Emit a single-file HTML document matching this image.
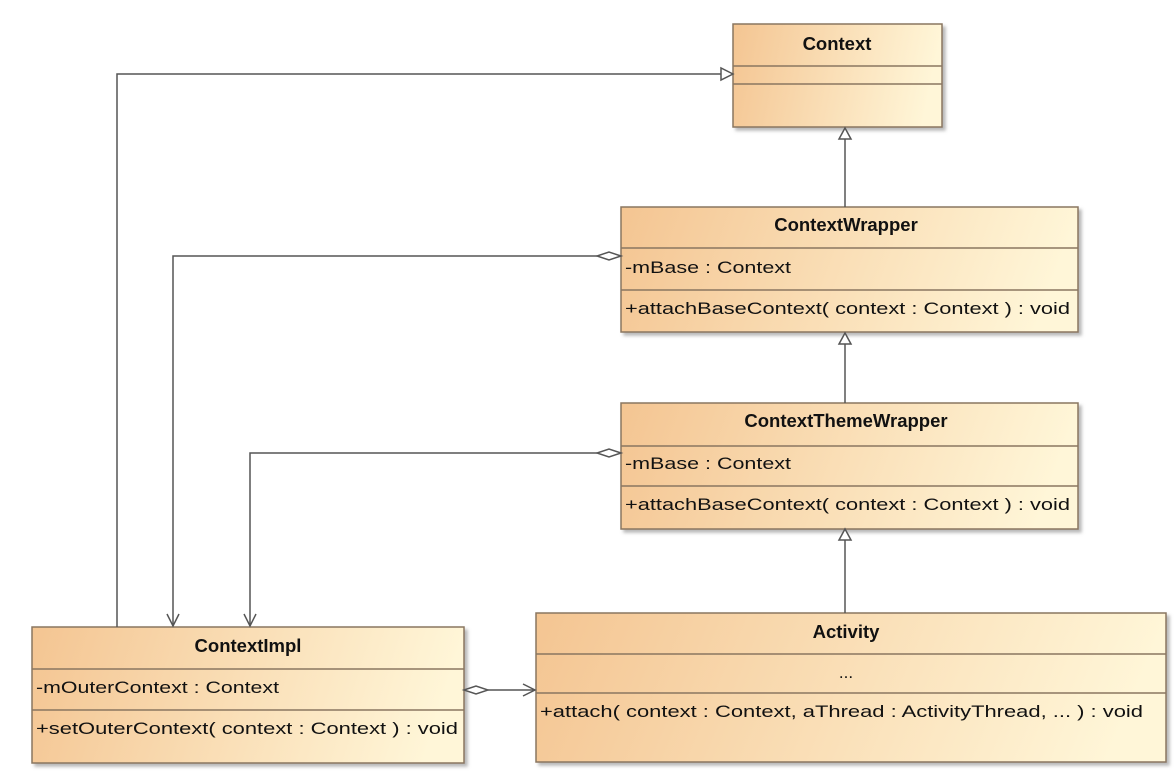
<!DOCTYPE html>
<html><head><style>html,body{margin:0;padding:0;background:#fff}</style></head>
<body>
<svg width="1174" height="778" xmlns="http://www.w3.org/2000/svg" font-family="Liberation Sans, sans-serif">
<defs>
<linearGradient id="g" x1="0" y1="0" x2="1" y2="0.1">
<stop offset="0" stop-color="#f4c592"/><stop offset="1" stop-color="#fff6d8"/>
</linearGradient>
<filter id="sh" x="-5%" y="-5%" width="110%" height="115%"><feDropShadow dx="3" dy="3" stdDeviation="1.5" flood-color="#888" flood-opacity="0.6"/></filter>
</defs>
<g stroke="#8a7660" stroke-width="1.5">
<rect x="733" y="24" width="209" height="103" fill="url(#g)" filter="url(#sh)"/>
<line x1="733" y1="66" x2="942" y2="66"/><line x1="733" y1="84" x2="942" y2="84"/>
<rect x="621" y="207" width="457" height="125" fill="url(#g)" filter="url(#sh)"/>
<line x1="621" y1="248" x2="1078" y2="248"/><line x1="621" y1="290" x2="1078" y2="290"/>
<rect x="621" y="403" width="457" height="126" fill="url(#g)" filter="url(#sh)"/>
<line x1="621" y1="446" x2="1078" y2="446"/><line x1="621" y1="486" x2="1078" y2="486"/>
<rect x="32" y="627" width="432" height="136" fill="url(#g)" filter="url(#sh)"/>
<line x1="32" y1="669" x2="464" y2="669"/><line x1="32" y1="710" x2="464" y2="710"/>
<rect x="536" y="613" width="630" height="149" fill="url(#g)" filter="url(#sh)"/>
<line x1="536" y1="654" x2="1166" y2="654"/><line x1="536" y1="693" x2="1166" y2="693"/>
</g>
<g stroke="#555" stroke-width="1.5" fill="none">
<line x1="845" y1="139" x2="845" y2="207"/>
<polygon points="845,128 839,139 851,139" fill="#fff"/>
<line x1="845" y1="344" x2="845" y2="403"/>
<polygon points="845,333 839,344 851,344" fill="#fff"/>
<line x1="845" y1="540" x2="845" y2="613"/>
<polygon points="845,529 839,540 851,540" fill="#fff"/>
<polyline points="117,627 117,74 721,74"/>
<polygon points="733,74 721,68 721,80" fill="#fff"/>
<polyline points="597,256 173,256 173,626"/>
<polygon points="621,256 609,252 597,256 609,260" fill="#fff"/>
<polyline points="167,614 173,626 179,614"/>
<polyline points="597,453 250,453 250,626"/>
<polygon points="621,453 609,449 597,453 609,457" fill="#fff"/>
<polyline points="244,614 250,626 256,614"/>
<line x1="488" y1="690" x2="535" y2="690"/>
<polygon points="464,690 476,686 488,690 476,694" fill="#fff"/>
<polyline points="523,684 535,690 523,696"/>
</g>
<g fill="#111" font-size="17">
<g font-size="18.5" font-weight="bold" text-anchor="middle">
<text x="837" y="50">Context</text>
<text x="846" y="231">ContextWrapper</text>
<text x="846" y="427">ContextThemeWrapper</text>
<text x="248" y="652">ContextImpl</text>
<text x="846" y="638">Activity</text>
</g>
<text x="625" y="273" textLength="166" lengthAdjust="spacingAndGlyphs">-mBase : Context</text>
<text x="625" y="314" textLength="445" lengthAdjust="spacingAndGlyphs">+attachBaseContext( context : Context ) : void</text>
<text x="625" y="469" textLength="166" lengthAdjust="spacingAndGlyphs">-mBase : Context</text>
<text x="625" y="510" textLength="445" lengthAdjust="spacingAndGlyphs">+attachBaseContext( context : Context ) : void</text>
<text x="36" y="693" textLength="243" lengthAdjust="spacingAndGlyphs">-mOuterContext : Context</text>
<text x="36" y="734" textLength="422" lengthAdjust="spacingAndGlyphs">+setOuterContext( context : Context ) : void</text>
<text x="846" y="678" text-anchor="middle">...</text>
<text x="540" y="717" textLength="603" lengthAdjust="spacingAndGlyphs">+attach( context : Context, aThread : ActivityThread, ... ) : void</text>
</g>
</svg>
</body></html>
